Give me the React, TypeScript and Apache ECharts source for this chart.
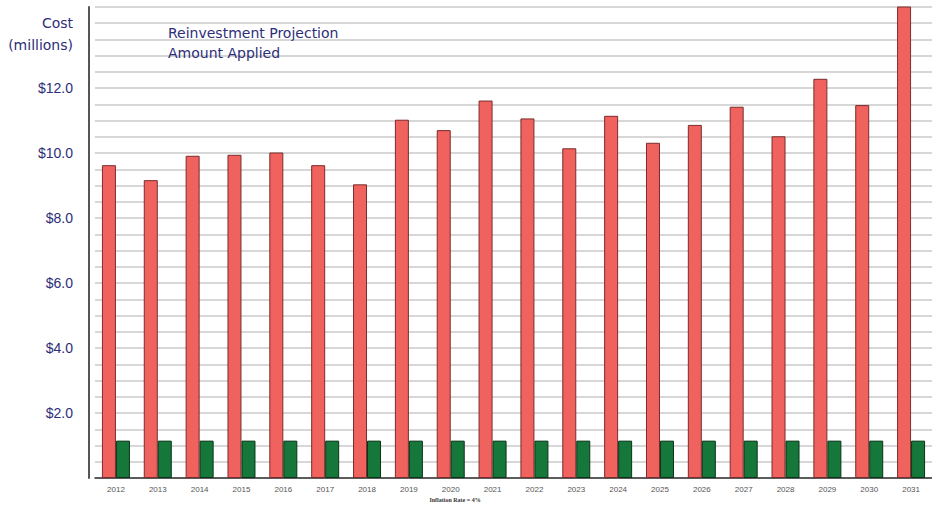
import React, { useEffect, useRef } from "react";
import * as echarts from "echarts";

const years = ["2012","2013","2014","2015","2016","2017","2018","2019","2020","2021","2022","2023","2024","2025","2026","2027","2028","2029","2030","2031"];
const reinvestment = [9.63, 9.17, 9.92, 9.95, 10.02, 9.63, 9.04, 11.03, 10.71, 11.62, 11.07, 10.15, 11.15, 10.32, 10.87, 11.43, 10.52, 12.29, 11.48, 14.6];
const applied = [1.15, 1.15, 1.15, 1.15, 1.15, 1.15, 1.15, 1.15, 1.15, 1.15, 1.15, 1.15, 1.15, 1.15, 1.15, 1.15, 1.15, 1.15, 1.15, 1.15];
const seriesNames = ["Reinvestment Projection", "Amount Applied"];
const yLabelValues = [2, 4, 6, 8, 10, 12];
const axisTitle = "Cost\n(millions)";
const xTitle = "Inflation Rate = 4%";

export default function App() {
  const ref = useRef<HTMLDivElement>(null);
  useEffect(() => {
    if (!ref.current) return;
    const chart = echarts.init(ref.current, null, { renderer: "svg" });
    const navy = "#2d2d78";
    chart.setOption({
      animation: false,
      backgroundColor: "#ffffff",
      textStyle: { fontFamily: "Liberation Sans, Arial, sans-serif" },
      grid: { left: 95, right: -5, top: 7, bottom: 28, containLabel: false },
      legend: {
        data: seriesNames,
        orient: "vertical",
        left: 157,
        top: 18,
        itemWidth: 0,
        itemHeight: 0,
        itemGap: 0,
        selectedMode: false,
        textStyle: { color: navy, fontSize: 14, lineHeight: 20, fontFamily: "DejaVu Sans, Verdana, sans-serif", padding: [0, 0, 0, 0] },
      },
      xAxis: {
        type: "category",
        data: years,
        axisLine: { show: true, lineStyle: { color: "#333333", width: 1.5 } },
        axisTick: { show: false },
        axisLabel: { color: "#555555", fontSize: 8, margin: 7 },
        splitLine: { show: false },
      },
      yAxis: {
        type: "value",
        min: 0,
        max: 14.5,
        interval: 0.5,
        offset: 6,
        axisLine: { show: true, lineStyle: { color: "#555555", width: 2 } },
        axisTick: { show: false },
        axisLabel: {
          color: navy,
          fontSize: 14,
          margin: 16,
          formatter: (v: number) => (yLabelValues.indexOf(v) >= 0 ? "$" + v.toFixed(1) : ""),
        },
        splitLine: { show: true, lineStyle: { color: "#cacaca", width: 1.5 } },
      },
      series: [
        {
          name: seriesNames[0],
          type: "bar",
          data: reinvestment,
          barWidth: 14,
          barGap: "0%",
          itemStyle: { color: "#f0625e", borderColor: "#7a2c2c", borderWidth: 1 },
        },
        {
          name: seriesNames[1],
          type: "bar",
          data: applied,
          barWidth: 14,
          barGap: "0%",
          itemStyle: { color: "#15783a", borderColor: "#0a3318", borderWidth: 1 },
        },
      ],
      graphic: [
        {
          type: "text",
          x: 73,
          y: 12,
          style: {
            text: axisTitle,
            fill: navy,
            fontSize: 14,
            lineHeight: 22,
            align: "right",
            fontFamily: "DejaVu Sans, Verdana, sans-serif",
          },
        },
        {
          type: "text",
          x: 455,
          y: 500,
          style: {
            text: xTitle,
            fill: "#333333",
            fontSize: 6,
            fontWeight: "bold",
            align: "center",
            verticalAlign: "middle",
            fontFamily: "Liberation Serif, Times New Roman, serif",
          },
        },
      ],
    });
    return () => chart.dispose();
  }, []);
  return <div ref={ref} style={{ position: "fixed", left: 0, top: 0, width: 932, height: 506 }} />;
}
